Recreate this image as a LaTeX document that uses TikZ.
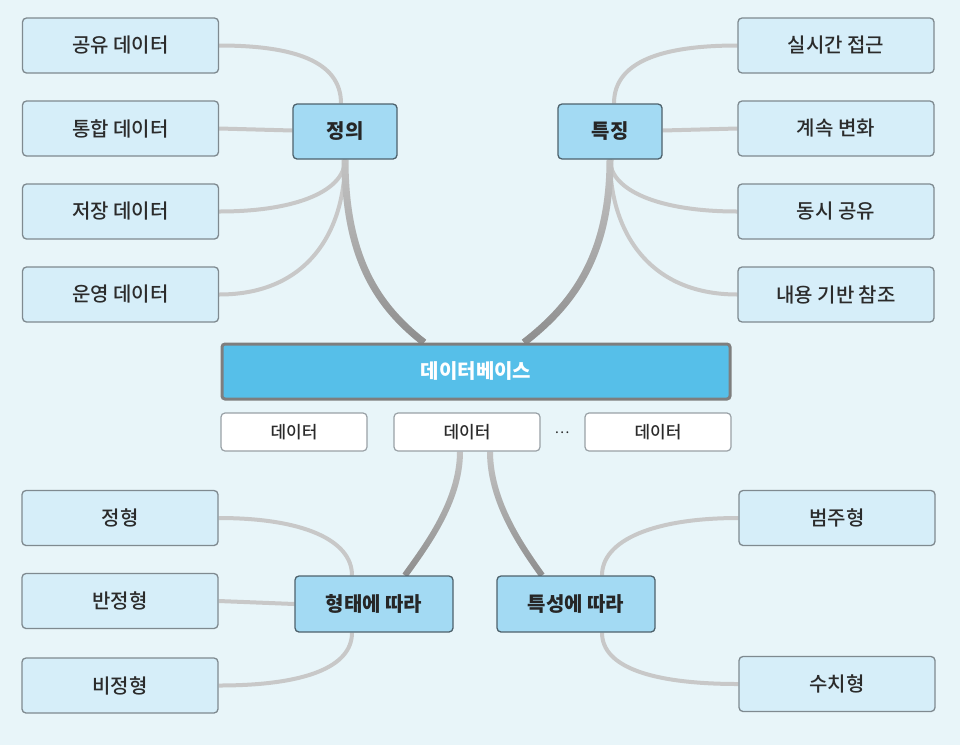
\documentclass[tikz,border=0pt]{standalone}
\usepackage{fontspec}
\setmainfont{Noto Sans CJK KR}
\newfontfamily\medfont{Noto Sans CJK KR Medium}
\usetikzlibrary{backgrounds,fadings}
\definecolor{bgc}{HTML}{E8F5F9}
\definecolor{leaffill}{HTML}{D6EEF9}
\definecolor{leafdraw}{HTML}{7F8A90}
\definecolor{hubfill}{HTML}{A3DAF3}
\definecolor{hubdraw}{HTML}{4E626C}
\definecolor{dbfill}{HTML}{56BFE9}
\definecolor{dbdraw}{HTML}{7E7E7E}
\definecolor{txt}{HTML}{2B2B2B}
\definecolor{linec}{HTML}{C8C8C8}
\definecolor{trunkc}{HTML}{C4C4C4}
\definecolor{trunkd}{HTML}{8E8E8E}
\begin{document}
\begin{tikzpicture}[x=1pt,y=-1pt,
  leaf/.style={draw=leafdraw,line width=1.3pt,fill=leaffill,rounded corners=4pt,
    minimum width=196pt,minimum height=55pt,inner sep=0pt,text=txt,
    font=\fontsize{20}{24}\medfont},
  hub/.style={draw=hubdraw,line width=1.3pt,fill=hubfill,rounded corners=4pt,
    minimum height=55pt,inner sep=0pt,text=black!85,
    font=\fontsize{20}{24}\selectfont\bfseries},
  dbbox/.style={draw=dbdraw,line width=3pt,fill=dbfill,rounded corners=3pt,
    minimum width=508pt,minimum height=55pt,inner sep=0pt,text=white,
    font=\fontsize{20}{24}\selectfont\bfseries},
  databox/.style={draw=leafdraw!80,line width=1.2pt,fill=white,rounded corners=4pt,
    minimum width=146pt,minimum height=38pt,inner sep=0pt,text=txt,
    font=\fontsize{17}{20}\medfont},
  leafline/.style={draw=linec,line width=4pt},
  trunk/.style={draw=trunkc,line width=7pt},
  trunkdark/.style={draw=trunkd,line width=7pt,path fading=north}]
\useasboundingbox (0,0) rectangle (960,745);

% left top leaves
\node[leaf] (gongyu) at (120.5,45.5) {공유 데이터};
\node[leaf] (tonghap) at (120.5,128.5) {통합 데이터};
\node[leaf] (jeojang) at (120.5,211.5) {저장 데이터};
\node[leaf] (unyeong) at (120.5,294.5) {운영 데이터};
% right top leaves
\node[leaf] (silsi) at (836,45.5) {실시간 접근};
\node[leaf] (gyesok) at (836,128.5) {계속 변화};
\node[leaf] (dongsi) at (836,211.5) {동시 공유};
\node[leaf] (naeyong) at (836,294.5) {내용 기반 참조};
% hubs
\node[hub,minimum width=104pt] (def) at (345,131.5) {정의};
\node[hub,minimum width=104pt] (feat) at (610,131.5) {특징};
% database
\node[dbbox] (db) at (476,371.5) {데이터베이스};
\node[databox] (d1) at (294,432) {데이터};
\node[databox] (d2) at (467,432) {데이터};
\node[databox] (d3) at (658,432) {데이터};
\node[text=txt,font=\fontsize{14}{16}\selectfont,inner sep=0pt] (dots) at (562,433) {…};
% bottom hubs
\node[hub,minimum width=158pt,minimum height=56pt] (shape) at (374,604) {형태에 따라};
\node[hub,minimum width=158pt,minimum height=56pt] (prop) at (576,604) {특성에 따라};
% bottom leaves
\node[leaf] (jh) at (120,518) {정형};
\node[leaf] (bjh) at (120,601) {반정형};
\node[leaf] (bijh) at (120,685.5) {비정형};
\node[leaf] (bc) at (837,518) {범주형};
\node[leaf] (sc) at (837,684) {수치형};

\begin{pgfonlayer}{background}
\fill[bgc] (0,0) rectangle (960,745);
% definition branch
\draw[leafline] (gongyu.east) .. controls +(75,0) and +(0,-42) .. ([xshift=-4pt]def.north);
\draw[leafline] (tonghap.east) -- ([yshift=1pt]def.west);
\draw[leafline] (jeojang.east) .. controls +(80,0) and +(0,30) .. (def.south);
\draw[leafline] (unyeong.east) .. controls +(90,0) and +(0,70) .. (def.south);
% feature branch
\draw[leafline] (silsi.west) .. controls +(-75,0) and +(0,-42) .. ([xshift=4pt]feat.north);
\draw[leafline] (gyesok.west) -- ([yshift=1pt]feat.east);
\draw[leafline] (dongsi.west) .. controls +(-80,0) and +(0,30) .. (feat.south);
\draw[leafline] (naeyong.west) .. controls +(-90,0) and +(0,70) .. (feat.south);
% trunks to database
\draw[trunk] (def.south) .. controls +(0,100) and +(-45,-35) .. ([xshift=-52pt]db.north);
\draw[trunkdark] (def.south) .. controls +(0,100) and +(-45,-35) .. ([xshift=-52pt]db.north);
\draw[trunk] (feat.south) .. controls +(0,100) and +(45,-35) .. ([xshift=48pt]db.north);
\draw[trunkdark] (feat.south) .. controls +(0,100) and +(45,-35) .. ([xshift=48pt]db.north);
% trunks from data
\draw[trunk,line width=6pt] ([xshift=-7pt]d2.south) .. controls +(0,50) and +(20,-28) .. ([xshift=31pt]shape.north);
\draw[trunkdark,line width=6pt] ([xshift=-7pt]d2.south) .. controls +(0,50) and +(20,-28) .. ([xshift=31pt]shape.north);
\draw[trunk,line width=6pt] ([xshift=23pt]d2.south) .. controls +(0,50) and +(-20,-28) .. ([xshift=-34pt]prop.north);
\draw[trunkdark,line width=6pt] ([xshift=23pt]d2.south) .. controls +(0,50) and +(-20,-28) .. ([xshift=-34pt]prop.north);
% shape branch
\draw[leafline] (jh.east) .. controls +(85,0) and +(0,-35) .. ([xshift=-22pt]shape.north);
\draw[leafline] (bjh.east) -- (shape.west);
\draw[leafline] (bijh.east) .. controls +(85,0) and +(0,35) .. ([xshift=-22pt]shape.south);
% property branch
\draw[leafline] (bc.west) .. controls +(-85,0) and +(0,-35) .. ([xshift=26pt]prop.north);
\draw[leafline] (sc.west) .. controls +(-85,0) and +(0,35) .. ([xshift=26pt]prop.south);
\end{pgfonlayer}
\end{tikzpicture}
\end{document}
